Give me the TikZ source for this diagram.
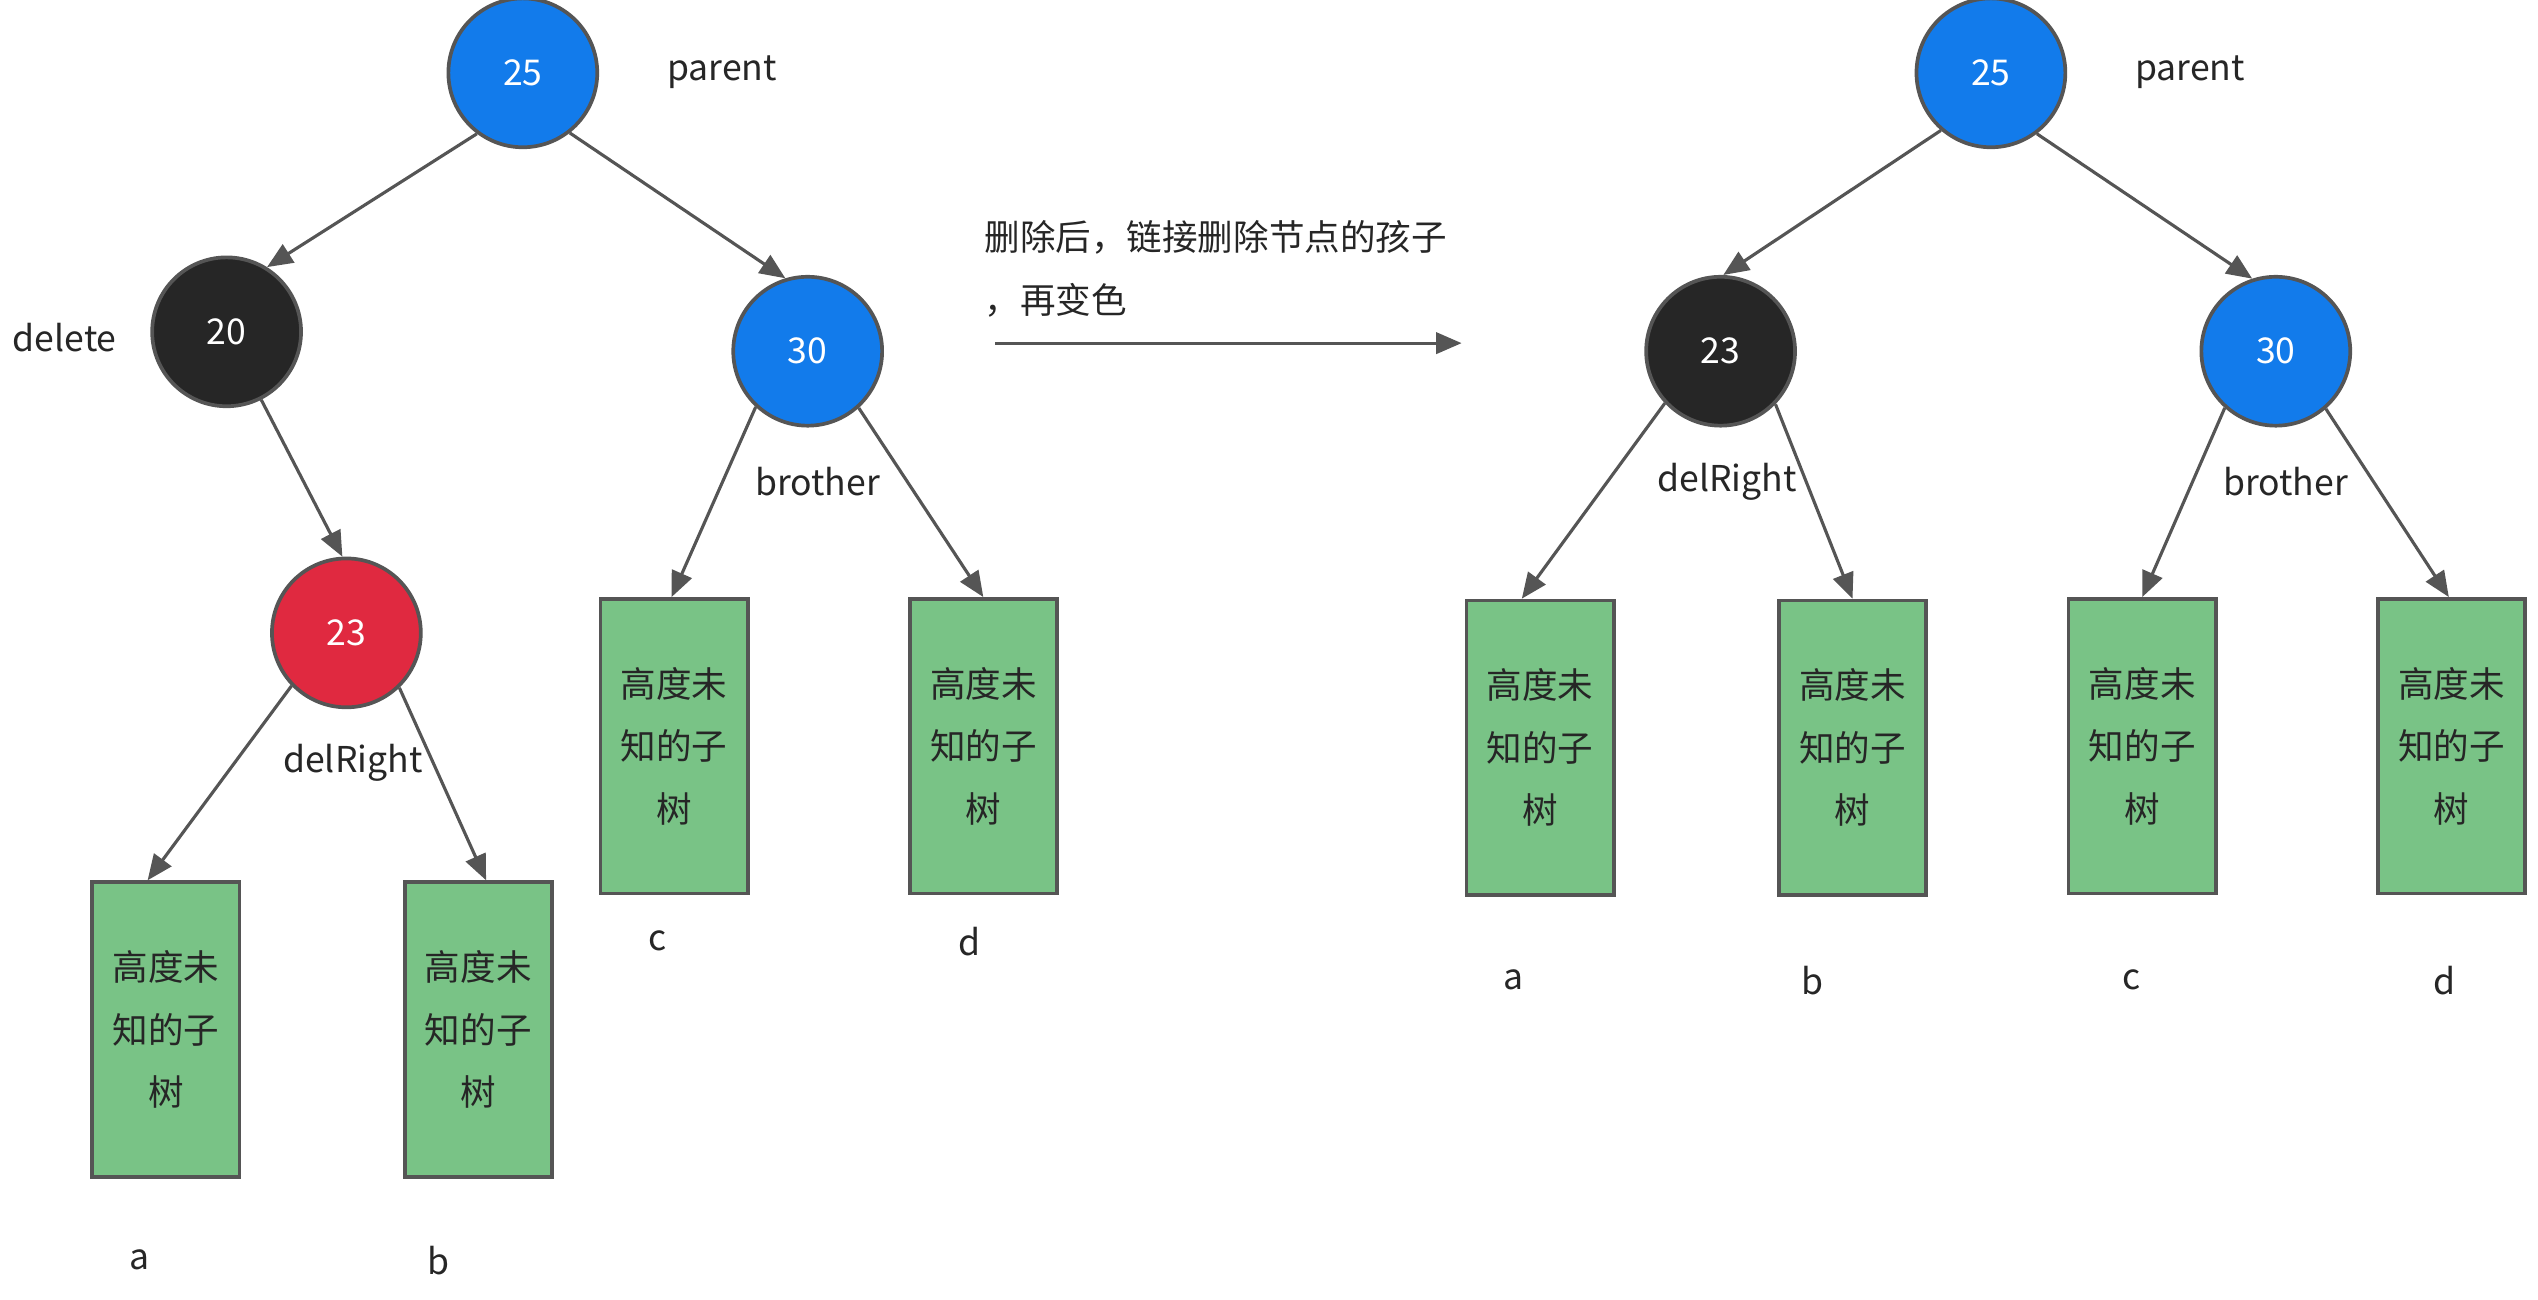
\documentclass[tikz,border=0pt]{standalone}
\usepackage{fontspec}
\setmainfont{Noto Sans CJK SC}
\usetikzlibrary{arrows.meta}
\definecolor{nodeblue}{RGB}{18,123,235}
\definecolor{nodeblack}{RGB}{38,38,38}
\definecolor{nodered}{RGB}{224,41,64}
\definecolor{treegreen}{RGB}{121,195,134}
\definecolor{edgegray}{RGB}{85,85,85}
\definecolor{textgray}{RGB}{38,38,38}
\begin{document}
\begin{tikzpicture}[x=0.02cm, y=-0.02cm,
    font=\fontsize{12.5}{22}\selectfont, text=textgray,
    rb/.style={circle, draw=edgegray, line width=1.3pt, minimum size=1.84cm, inner sep=0pt, text=white},
    sub/.style={draw=edgegray, line width=1.3pt, fill=treegreen, minimum width=1.82cm, minimum height=3.64cm, align=center, inner sep=0pt},
    tag/.style={yshift=-2pt},
    link/.style={-{Triangle[length=9pt,width=7.5pt]}, edgegray, line width=1.1pt}]
    \useasboundingbox (0,0) rectangle (1568,803);

    % Before: 20 is deleted
    \node[rb, fill=nodeblue] (P) at (323,45) {25};
    \node[rb, fill=nodeblack] (D) at (140,205) {20};
    \node[rb, fill=nodeblue] (B) at (499,217) {30};
    \node[rb, fill=nodered] (R) at (214,391) {23};
    \node[tag] (lblP) at (446,41) {parent};
    \node[tag] (lblD) at (40,205) {delete};
    \node[tag] (lblB) at (505,294) {brother};
    \node[tag] (lblR) at (218,468) {delRight};

    \node[sub] (Ta) at (102.5,636) {高度未\\知的子\\树};
    \node[sub] (Tb) at (295.5,636) {高度未\\知的子\\树};
    \node[sub] (Tc) at (416.5,461) {高度未\\知的子\\树};
    \node[sub] (Td) at (607.5,461) {高度未\\知的子\\树};
    \node[tag] (la) at (86,775) {a};
    \node[tag] (lb) at (271,775) {b};
    \node[tag] (lc) at (406,578) {c};
    \node[tag] (ld) at (599,578) {d};

    \draw[link] (P.233) -- (D.58);
    \draw[link] (P.308) -- (B.107);
    \draw[link] (D.297) -- (R.93);
    \draw[link] (R.224) -- (Ta.97);
    \draw[link] (R.314) -- (Tb.87);
    \draw[link] (B.227) -- (Tc.91);
    \draw[link] (B.312) -- (Td.90);

    % Arrow between the two trees
    \node[align=left, anchor=west, inner sep=0pt] (note) at (608,166) {删除后，链接删除节点的孩子\\，再变色};
    \coordinate (arrS) at (615,212);
    \coordinate (arrE) at (903,212);
    \draw[link] (arrS) -- (arrE);

    % After: 23 takes its place and turns black
    \node[rb, fill=nodeblue] (P2) at (1230,45) {25};
    \node[rb, fill=nodeblack] (R2) at (1063,217) {23};
    \node[rb, fill=nodeblue] (B2) at (1406,217) {30};
    \node[tag] (lblP2) at (1353,41) {parent};
    \node[tag] (lblR2) at (1067,294) {delRight};
    \node[tag] (lblB2) at (1412,294) {brother};

    \node[sub] (Ta2) at (951.5,462) {高度未\\知的子\\树};
    \node[sub] (Tb2) at (1144.5,462) {高度未\\知的子\\树};
    \node[sub] (Tc2) at (1323.5,461) {高度未\\知的子\\树};
    \node[sub] (Td2) at (1514.5,461) {高度未\\知的子\\树};
    \node[tag] (la2) at (935,602) {a};
    \node[tag] (lb2) at (1120,602) {b};
    \node[tag] (lc2) at (1317,602) {c};
    \node[tag] (ld2) at (1510,602) {d};

    \draw[link] (P2.229) -- (R2.88);
    \draw[link] (P2.307) -- (B2.108);
    \draw[link] (R2.223) -- (Ta2.97);
    \draw[link] (R2.316) -- (Tb2.90);
    \draw[link] (B2.228) -- (Tc2.90);
    \draw[link] (B2.311) -- (Td2.91);
\end{tikzpicture}
\end{document}
